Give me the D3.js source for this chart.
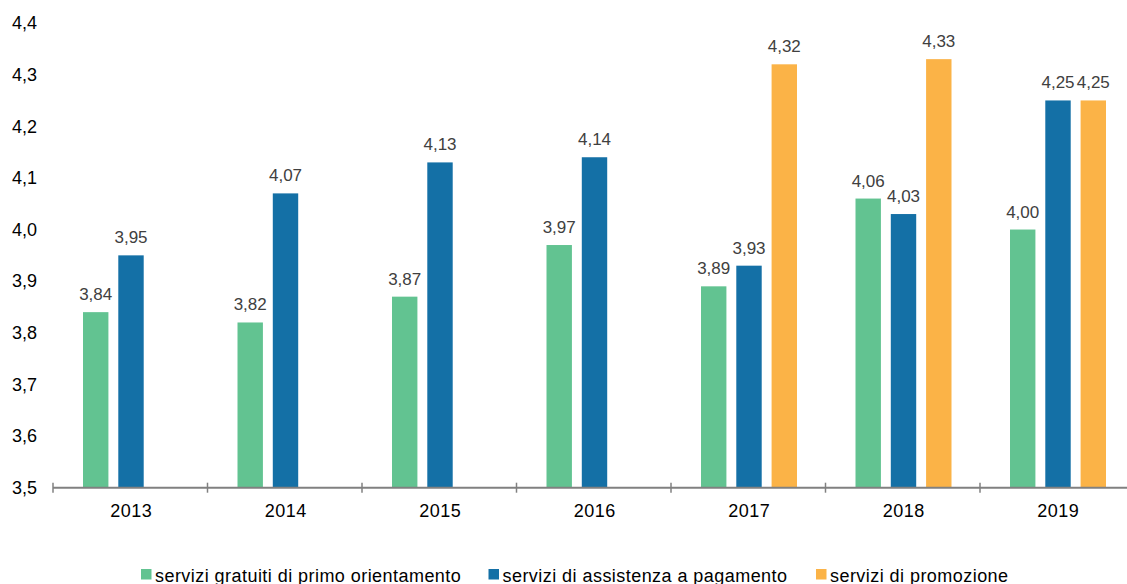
<!DOCTYPE html>
<html><head><meta charset="utf-8">
<script src="https://cdn.jsdelivr.net/npm/d3@7"></script>
<style>body{margin:0;background:#fff}svg{display:block;font-family:"Liberation Sans",Arial,sans-serif}</style>
</head><body><svg id="c" width="1127" height="584"></svg>
<script>
const categories = ["2013","2014","2015","2016","2017","2018","2019"];
const seriesNames = ["servizi gratuiti di primo orientamento","servizi di assistenza a pagamento","servizi di promozione"];
const gratuiti = [3.84,3.82,3.87,3.97,3.89,4.06,4.00];
const pagamento = [3.95,4.07,4.13,4.14,3.93,4.03,4.25];
const promozione = [null,null,null,null,4.32,4.33,4.25];
const yTicks = [3.5,3.6,3.7,3.8,3.9,4.0,4.1,4.2,4.3,4.4];
const colors = ["#62C391","#1470A6","#FBB347"];

const series = [gratuiti, pagamento, promozione];
const svg = d3.select("#c");
const left = 53, bandW = 154.5;
const x = d3.scaleBand().domain(categories).range([left, left + bandW*categories.length]).padding(0);
const inner = d3.scaleBand().domain([0,1,2]).range([30, bandW-28.5]).paddingInner(0.28).paddingOuter(0);
const y = d3.scaleLinear().domain([3.5,4.4]).range([487.7, 23]);
const fmt = v => v.toFixed(2).replace(".", ",");

// y tick labels
svg.append("g").selectAll("text").data(yTicks).join("text")
  .attr("x", 37).attr("y", d => y(d)).attr("dy", "0.35em")
  .attr("text-anchor", "end").attr("font-size", 18).attr("fill", "#000")
  .text(d => d.toFixed(1).replace(".", ","));

// bars
series.forEach((s, i) => {
  const g = svg.append("g");
  const data = categories.map((c, j) => ({c, v: s[j]})).filter(d => d.v != null);
  g.selectAll("rect").data(data).join("rect")
    .attr("x", d => x(d.c) + inner(i)).attr("width", inner.bandwidth())
    .attr("y", d => y(d.v)).attr("height", d => y(3.5) - y(d.v))
    .attr("fill", colors[i]);
  g.selectAll("text").data(data).join("text")
    .attr("x", d => x(d.c) + inner(i) + inner.bandwidth()/2)
    .attr("y", d => y(d.v) - 12)
    .attr("text-anchor", "middle").attr("font-size", 17).attr("fill", "#404040")
    .text(d => fmt(d.v));
});

// x axis
const axisG = svg.append("g");
axisG.append("line").attr("x1", left).attr("x2", 1127).attr("y1", y(3.5)).attr("y2", y(3.5))
  .attr("stroke", "#808080").attr("stroke-width", 2);
const bounds = categories.map(c => x(c)).concat([x(categories[categories.length-1]) + bandW]);
axisG.selectAll("line.t").data(bounds).join("line").attr("class","t")
  .attr("x1", d => d).attr("x2", d => d)
  .attr("y1", y(3.5) - 5).attr("y2", y(3.5) + 5)
  .attr("stroke", "#808080").attr("stroke-width", 1.5);
axisG.selectAll("text").data(categories).join("text")
  .attr("x", d => x(d) + bandW/2 + 1).attr("y", 517)
  .attr("text-anchor", "middle").attr("font-size", 18).attr("letter-spacing", 0.5).attr("fill", "#000")
  .text(d => d);

// legend
const legX = [141, 488.5, 816];
const leg = svg.append("g");
seriesNames.forEach((n, i) => {
  leg.append("rect").attr("x", legX[i]).attr("y", 569).attr("width", 10.5).attr("height", 10.5).attr("fill", colors[i]);
  leg.append("text").attr("x", legX[i] + 14).attr("y", 582).attr("font-size", 18).attr("letter-spacing", 0.45).attr("fill", "#000").text(n);
});
</script></body></html>
